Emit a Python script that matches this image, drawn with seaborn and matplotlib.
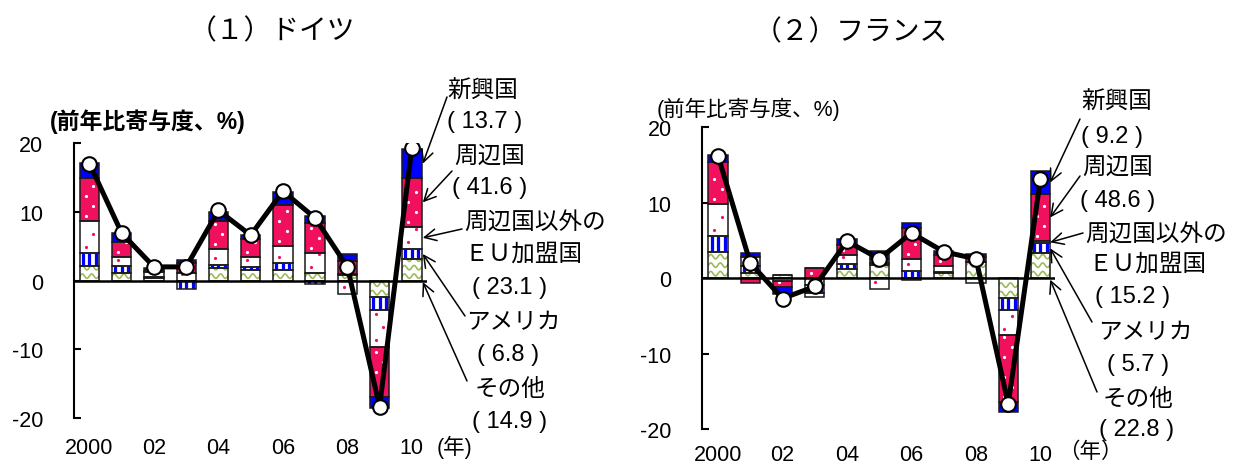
import numpy as np
import pandas as pd
import matplotlib
matplotlib.use("Agg")
import matplotlib.pyplot as plt
import seaborn as sns

# ---------------------------------------------------------------- data
years = ["2000", "01", "02", "03", "04", "05", "06", "07", "08", "09", "10"]
tick_pos = [0, 2, 4, 6, 8, 10]
tick_labels = ["2000", "02", "04", "06", "08", "10"]

# contributions to y/y export growth (% points), stacked bottom -> top
de_other = [2.1, 1.1, 0.4, -0.1, 1.8, 1.55, 1.55, 1.05, 0.8, -2.4, 3.15]
de_us = [1.9, 1.0, 0.1, -1.1, 0.5, 0.5, 1.0, -0.5, 0.2, -1.9, 1.45]
de_eu = [4.6, 1.3, 0.7, 1.05, 2.3, 1.45, 2.55, 3.0, -1.9, -5.3, 3.25]
de_periph = [6.3, 2.2, 0.2, 1.55, 4.0, 2.6, 5.9, 4.3, 1.9, -7.3, 7.05]
de_emerg = [2.2, 1.3, 0.5, 0.45, 1.4, 0.6, 1.95, 1.1, 0.9, -1.6, 4.2]
de_total = [17.0, 6.9, 2.0, 2.0, 10.2, 6.6, 13.0, 9.1, 2.0, -18.3, 19.3]

fr_other = [3.5, 0.65, 0.4, -0.9, 1.25, 1.7, -0.2, 0.65, 2.1, -2.65, 3.3]
fr_us = [2.05, 0.9, 0.05, -1.1, 0.65, 0.3, 1.0, 0.15, 0.1, -1.6, 1.3]
fr_eu = [4.3, 1.3, -0.4, -0.5, 1.2, -1.4, 1.5, 0.8, -0.6, -3.3, 0.3]
fr_periph = [5.5, -0.6, -0.8, 1.3, 1.3, 0.5, 4.2, 1.45, 0.6, -8.9, 6.3]
fr_emerg = [1.0, 0.45, -0.9, 0.1, 0.75, 1.1, 0.65, 0.6, 0.4, -1.25, 2.95]
fr_total = [16.2, 2.0, -2.7, -1.1, 4.9, 2.55, 6.0, 3.5, 2.55, -16.7, 13.2]

# export shares (%) shown beside the latest bar: emerging, periphery, other EU, US, other
de_share = [13.7, 41.6, 23.1, 6.8, 14.9]
fr_share = [9.2, 48.6, 15.2, 5.7, 22.8]

titles = ["（１）ドイツ", "（２）フランス"]
unit_label = "(前年比寄与度、%)"
year_unit = ["(年)", "（年）"]

# ---------------------------------------------------------------- style
sns.set_theme(style="white")
plt.rcParams["font.family"] = ["Liberation Sans", "Noto Sans CJK JP", "DejaVu Sans"]
plt.rcParams["text.color"] = "black"
plt.rcParams["xtick.color"] = "black"
plt.rcParams["ytick.color"] = "black"

BLUE = "#0000FF"
PINK = "#F0105E"
GREEN = "#9BBB59"
EDGE = "#1a1a1a"

W, H = 1234, 464
fig = plt.figure(figsize=(W / 100, H / 100), dpi=100)


def fx(px):
    return px / W


def fy(py):
    return 1 - py / H


def px_scale(ax):
    p0 = ax.transData.transform((0, 0))
    p1 = ax.transData.transform((1, 1))
    return p1[0] - p0[0], p1[1] - p0[1]


def bounds(r):
    x0, w = r.get_x(), r.get_width()
    y0, h = r.get_y(), r.get_height()
    return x0, w, min(y0, y0 + h), max(y0, y0 + h)


def draw_waves(ax, rects, color):
    sx, sy = px_scale(ax)
    for r in rects:
        x0, w, lo, hi = bounds(r)
        if hi - lo < 1e-6:
            continue
        xs = np.linspace(x0, x0 + w, 80)
        period, amp, step = 9.5 / sx, 2.2 / sy, 8.5 / sy
        for yc in np.arange(lo + 4.5 / sy, hi + step, step):
            ys = yc + amp * np.sin(2 * np.pi * (xs - x0) / period)
            ln, = ax.plot(xs, ys, color=color, lw=1.2, zorder=2.2)
            ln.set_clip_path(r)


def draw_stripes(ax, rects, color):
    sx, sy = px_scale(ax)
    for r in rects:
        x0, w, lo, hi = bounds(r)
        if hi - lo < 1e-6:
            continue
        lw = (w / 6) * sx * 0.72
        for f in (1 / 6, 1 / 2, 5 / 6):
            ln, = ax.plot([x0 + f * w] * 2, [lo, hi], color=color, lw=lw,
                          solid_capstyle="butt", zorder=2.2)
            ln.set_clip_path(r)


def draw_dots(ax, rects, color, step_px):
    sx, sy = px_scale(ax)
    for r in rects:
        x0, w, lo, hi = bounds(r)
        ys = np.arange(lo + step_px / 2 / sy, hi, step_px / sy)
        if len(ys) == 0:
            continue
        xs = np.where(np.arange(len(ys)) % 2 == 0, x0 + 0.3 * w, x0 + 0.7 * w)
        ln, = ax.plot(xs, ys, ls="none", marker="o", ms=2.3, mfc=color,
                      mec="none", zorder=2.2)
        ln.set_clip_path(r)


def stacked_bottoms(layers):
    arr = np.array(layers, float)
    pos = np.zeros(arr.shape[1])
    neg = np.zeros(arr.shape[1])
    out = []
    for row in arr:
        out.append(np.where(row >= 0, pos, neg))
        pos = pos + np.clip(row, 0, None)
        neg = neg + np.clip(row, None, 0)
    return out


def panel(rect, layers, total, xlim, xpad):
    ax = fig.add_axes(rect)
    ax.set_xlim(*xlim)
    ax.set_ylim(-20, 20)
    x = np.arange(len(years))
    width = 0.6
    bottoms = stacked_bottoms(layers)
    faces = ["white", "white", "white", PINK, BLUE]
    for i, (vals, bot) in enumerate(zip(layers, bottoms)):
        bars = ax.bar(x, vals, width, bottom=bot, color=faces[i],
                      linewidth=0, zorder=2)
        if i == 0:
            draw_waves(ax, bars.patches, GREEN)
        elif i == 1:
            draw_stripes(ax, bars.patches, BLUE)
        elif i == 2:
            draw_dots(ax, bars.patches, PINK, 13)
        elif i == 3:
            draw_dots(ax, bars.patches, "white", 10)
        ax.bar(x, vals, width, bottom=bot, fill=False, edgecolor=EDGE,
               linewidth=1.1, zorder=2.5)
    ax.axhline(0, color="black", lw=1.8, zorder=3)

    df = pd.DataFrame({"year": x, "total": total})
    sns.lineplot(data=df, x="year", y="total", ax=ax, color="black",
                 linewidth=3.6, marker="o", markersize=10.5,
                 markerfacecolor="white", markeredgecolor="black",
                 markeredgewidth=1.5, zorder=5)
    ax.set_xlabel("")
    ax.set_ylabel("")
    ax.set_xlim(*xlim)
    ax.set_ylim(-20, 20)

    sns.despine(ax=ax, bottom=True)
    ax.spines["left"].set_color("black")
    ax.spines["left"].set_linewidth(1.5)
    ax.set_yticks([-20, -10, 0, 10, 20])
    ax.set_yticklabels(["-20", "-10", "0", "10", "20"])
    ax.tick_params(axis="y", left=True, direction="in", length=5, width=1.5,
                   pad=22, labelsize=15.5)
    ax.set_xticks(tick_pos)
    ax.set_xticklabels(tick_labels)
    ax.tick_params(axis="x", bottom=False, length=0, pad=xpad, labelsize=15.5)
    ax.patch.set_alpha(0)
    return ax, bottoms


ax1, b1 = panel([fx(74), fy(419.3), 353 / W, 275.3 / H],
                [de_other, de_us, de_eu, de_periph, de_emerg], de_total,
                (-0.48, 10.47), 13.5)
ax2, b2 = panel([fx(702.3), fy(430), 352.7 / W, 301.7 / H],
                [fr_other, fr_us, fr_eu, fr_periph, fr_emerg], fr_total,
                (-0.49, 10.45), 10.5)

# titles and unit labels
fig.text(fx(272), fy(32), titles[0], ha="center", va="center", fontsize=20)
fig.text(fx(851), fy(33), titles[1], ha="center", va="center", fontsize=20)
fig.text(fx(50), fy(122), unit_label, ha="left", va="center", fontsize=16.5,
         fontweight="bold")
fig.text(fx(657), fy(109), unit_label, ha="left", va="center", fontsize=15.5)
fig.text(fx(437), fy(447), year_unit[0], ha="left", va="center", fontsize=15.5)
fig.text(fx(1058), fy(452), year_unit[1], ha="left", va="center", fontsize=15.5)


def side_labels(ax, bottoms, layers, share, text_pos, tails, tip_x):
    names = ["新興国", "周辺国", "周辺国以外の", "ＥＵ加盟国", "アメリカ", "その他"]
    shares = [f"( {v:.1f} )" for v in share]
    lines = [names[0], shares[0], names[1], shares[1], names[2], names[3],
             shares[2], names[4], shares[3], names[5], shares[4]]
    for s, (px, py) in zip(lines, text_pos):
        fig.text(fx(px), fy(py), s, ha="center", va="center", fontsize=17)
    last = len(years) - 1
    # emerging, periphery, other EU, US -> segment mid-points; other -> base
    order = [4, 3, 2, 1]
    targets = []
    for k in order:
        v = layers[k][last]
        targets.append(bottoms[k][last] + v / 2)
    targets.append(bottoms[0][last] - 0.2)
    for (tx, ty), yt in zip(tails, targets):
        ax.annotate("", xy=(tip_x, yt), xycoords="data",
                    xytext=(tx, H - ty), textcoords="figure pixels",
                    arrowprops=dict(arrowstyle="->,head_length=0.7,head_width=0.35",
                                    lw=1.1, color="black", shrinkA=0, shrinkB=0),
                    annotation_clip=False, zorder=6)


side_labels(ax1, b1, [de_other, de_us, de_eu, de_periph, de_emerg], de_share,
            [(483, 92), (485, 122), (490, 157), (490, 188), (535, 223),
             (523, 255), (510, 288), (513, 323), (508, 355), (510, 390),
             (510, 422)],
            [(447, 98), (452, 172), (462, 230), (465, 317), (467, 382)], 10.34)
side_labels(ax2, b2, [fr_other, fr_us, fr_eu, fr_periph, fr_emerg], fr_share,
            [(1117, 103), (1112, 137), (1118, 168), (1118, 201), (1156, 235),
             (1147, 265), (1133, 297), (1145, 333), (1138, 365), (1138, 400),
             (1137, 430)],
            [(1080, 120), (1080, 177), (1083, 234), (1092, 323), (1097, 393)],
            10.3)

fig.savefig("out.png", dpi=100)
